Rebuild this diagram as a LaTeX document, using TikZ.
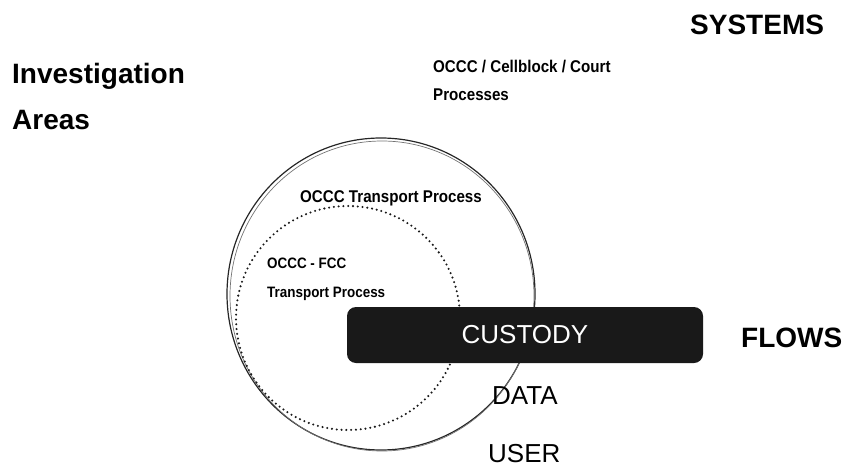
\documentclass[tikz,border=0pt]{standalone}
\usepackage{fontspec}
\setmainfont{Liberation Sans}
\newfontfamily\condfont{Liberation Sans}[FakeStretch=0.89]
\usepackage{tikz}

\begin{document}
\begin{tikzpicture}[x=1pt, y=-1pt,
	every node/.style={inner sep=0pt, anchor=base west},
	heading/.style={font=\fontsize{28}{30}\selectfont\bfseries},
	proc/.style={font=\condfont\fontsize{17}{19}\selectfont\bfseries},
	small proc/.style={font=\condfont\fontsize{15.1}{17}\selectfont\bfseries},
	flow/.style={font=\fontsize{26}{28}\selectfont}]
	\useasboundingbox (0,0) rectangle (848,468);
	% areas: sketchy outer circle and dotted inner one
	\draw[black!85, line width=1.2pt] (381,294) ellipse (154 and 156);
	\draw[black!55, line width=0.7pt] (382,296) ellipse (152 and 155);
	\draw[black!90, line width=2.3pt, line cap=round, dash pattern=on 0pt off 4.8pt] (348,318) circle (112);
	% headings
	\node[heading] (inv) at (12,84) {Investigation};
	\node[heading] (areas) at (12,130) {Areas};
	\node[heading] (systems) at (690,35) {SYSTEMS};
	\node[heading] (flows) at (741,347) {FLOWS};
	% process labels
	\node[proc] (court) at (433,73) {OCCC / Cellblock / Court};
	\node[proc] (courtb) at (433,101) {Processes};
	\node[proc] (transport) at (300,202) {OCCC Transport Process};
	\node[small proc] (fcc) at (267,268) {OCCC - FCC};
	\node[small proc] (fccb) at (267,297) {Transport Process};
	% flows
	\node[flow, anchor=center, fill=black!90, text=white, rounded corners=9pt,
		minimum width=356pt, minimum height=56pt] (custody) at (525,335) {CUSTODY};
	\node[flow] (data) at (492,404) {DATA};
	\node[flow] (user) at (488,462) {USER};
\end{tikzpicture}
\end{document}
